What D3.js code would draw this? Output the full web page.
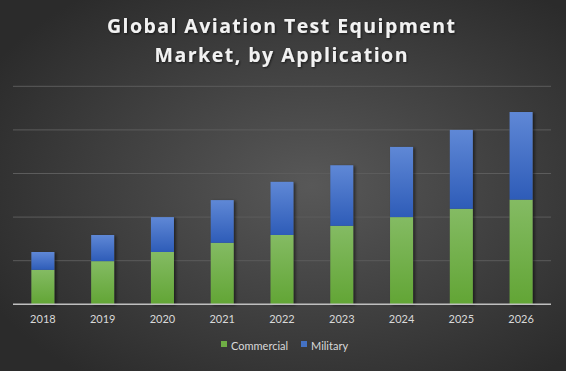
<!DOCTYPE html>
<html>
<head>
<meta charset="utf-8">
<script src="https://cdn.jsdelivr.net/npm/d3@7"></script>
<style>
  html, body { margin: 0; padding: 0; background: #333; }
  svg { display: block; font-family: Lato, "Open Sans", sans-serif; }
</style>
</head>
<body>
<svg id="canvas" width="566" height="371"></svg>
<script>
'use strict';

const years = ['2018', '2019', '2020', '2021', '2022', '2023', '2024', '2025', '2026'];
const commercial = [0.79, 0.99, 1.20, 1.41, 1.59, 1.80, 2.00, 2.19, 2.40];
const military = [0.41, 0.60, 0.80, 0.98, 1.22, 1.39, 1.61, 1.81, 2.01];
const seriesNames = ['Commercial', 'Military'];
const yTicks = [0, 1, 2, 3, 4, 5];

const svg = d3.select('#canvas');
const width = +svg.attr('width');
const height = +svg.attr('height');

const defs = svg.append('defs');

// background: light centre, dark edges
const bg = defs.append('radialGradient')
    .attr('id', 'bg')
    .attr('cx', '55%').attr('cy', '50%').attr('r', '65%');
bg.append('stop').attr('offset', '0%').attr('stop-color', '#585858');
bg.append('stop').attr('offset', '100%').attr('stop-color', '#2b2b2b');

function barGradient(id, top, bottom) {
    const g = defs.append('linearGradient')
        .attr('id', id)
        .attr('x1', 0).attr('y1', 0).attr('x2', 0).attr('y2', 1);
    g.append('stop').attr('offset', '0%').attr('stop-color', top);
    g.append('stop').attr('offset', '100%').attr('stop-color', bottom);
}
barGradient('gGreen', '#84bb63', '#62a535');
barGradient('gBlue', '#5f88d6', '#2e5cb8');

const shadow = defs.append('filter').attr('id', 'shadow')
    .attr('x', '-30%').attr('y', '-10%').attr('width', '160%').attr('height', '120%');
shadow.append('feDropShadow')
    .attr('dx', 2).attr('dy', 1).attr('stdDeviation', 1.5)
    .attr('flood-color', '#000').attr('flood-opacity', 0.5);

const tshadow = defs.append('filter').attr('id', 'tshadow');
tshadow.append('feDropShadow')
    .attr('dx', 1).attr('dy', 1).attr('stdDeviation', 0.8)
    .attr('flood-color', '#000').attr('flood-opacity', 0.6);

svg.append('rect')
    .attr('width', width).attr('height', height)
    .attr('fill', 'url(#bg)');

// title
const title = svg.append('text')
    .attr('text-anchor', 'middle')
    .attr('fill', '#f2f2f2')
    .attr('font-family', '"Open Sans", sans-serif')
    .attr('font-size', 19.5)
    .attr('font-weight', 'bold')
    .attr('filter', 'url(#tshadow)');
title.append('tspan').attr('x', 281).attr('y', 33)
    .attr('textLength', 348).attr('lengthAdjust', 'spacing')
    .text('Global Aviation Test Equipment');
title.append('tspan').attr('x', 281).attr('y', 62)
    .attr('textLength', 253).attr('lengthAdjust', 'spacing')
    .text('Market, by Application');

const margin = { left: 13, right: 15, top: 86.3, bottom: 304.3 };

const x = d3.scaleBand()
    .domain(years)
    .range([margin.left, width - margin.right])
    .paddingInner(0.615)
    .paddingOuter(0.3075);

const y = d3.scaleLinear()
    .domain([0, 5])
    .range([margin.bottom, margin.top]);

// gridlines
svg.append('g')
    .selectAll('line')
    .data(yTicks.slice(1))
    .enter().append('line')
        .attr('x1', margin.left)
        .attr('x2', width - margin.right)
        .attr('y1', function(d) { return y(d); })
        .attr('y2', function(d) { return y(d); })
        .attr('stroke', '#5c5c5c')
        .attr('stroke-width', 1);

const rows = years.map(function(yr, i) {
    return { year: yr, Commercial: commercial[i], Military: military[i] };
});
const stacked = d3.stack().keys(seriesNames)(rows);
const fills = { Commercial: 'url(#gGreen)', Military: 'url(#gBlue)' };

// shadows behind whole bars
svg.append('g')
    .selectAll('rect')
    .data(rows)
    .enter().append('rect')
        .attr('x', function(d) { return x(d.year); })
        .attr('width', x.bandwidth())
        .attr('y', function(d) { return y(d.Commercial + d.Military); })
        .attr('height', function(d) { return y(0) - y(d.Commercial + d.Military); })
        .attr('fill', '#444')
        .attr('filter', 'url(#shadow)');

svg.append('g')
    .selectAll('g')
    .data(stacked)
    .enter().append('g')
        .attr('fill', function(d) { return fills[d.key]; })
    .selectAll('rect')
    .data(function(d) { return d; })
    .enter().append('rect')
        .attr('x', function(d) { return x(d.data.year); })
        .attr('width', x.bandwidth())
        .attr('y', function(d) { return y(d[1]); })
        .attr('height', function(d) { return y(d[0]) - y(d[1]); });

// x axis
const xAxis = svg.append('g')
    .attr('transform', 'translate(0,' + margin.bottom + ')')
    .call(d3.axisBottom(x).tickSize(0).tickPadding(11));
xAxis.select('.domain')
    .attr('stroke', '#bfbfbf')
    .attr('stroke-width', 1.5)
    .attr('d', 'M' + margin.left + ',0H' + (width - margin.right));
xAxis.selectAll('text')
    .attr('fill', '#d9d9d9')
    .attr('font-size', 11)
    .attr('font-family', 'Lato, "Open Sans", sans-serif');

// legend
const legendColors = { Commercial: '#6fae45', Military: '#4472c4' };
const legendX = [221, 301];
const legend = svg.append('g');
const items = legend.selectAll('g')
    .data(seriesNames)
    .enter().append('g')
        .attr('transform', function(d, i) { return 'translate(' + legendX[i] + ',346)'; });
items.append('rect')
    .attr('x', 0).attr('y', -5)
    .attr('width', 6).attr('height', 6)
    .attr('fill', function(d) { return legendColors[d]; });
items.append('text')
    .attr('x', 10)
    .attr('y', 0)
    .attr('dy', '0.35em')
    .attr('fill', '#d9d9d9')
    .attr('font-size', 11)
    .text(function(d) { return d; });
</script>
</body>
</html>
